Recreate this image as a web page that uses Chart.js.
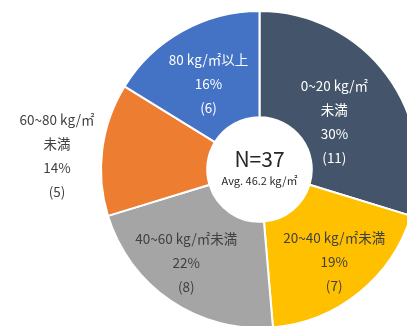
<!DOCTYPE html>
<html>
<head>
<meta charset="utf-8">
<script src="https://cdn.jsdelivr.net/npm/chart.js@4"></script>
<style>
  html, body { margin: 0; padding: 0; background: #fff; }
  #wrap { position: relative; width: 407px; height: 326px; overflow: hidden; }
  #chart { position: absolute; left: 0; top: 0; }
</style>
</head>
<body>
<div id="wrap"><canvas id="chart" width="419" height="329"></canvas></div>
<script>
// datos del gráfico
const categorias = [['0~20 kg/㎡', '未満'], ['20~40 kg/㎡未満'], ['40~60 kg/㎡未満'], ['60~80 kg/㎡', '未満'], ['80 kg/㎡以上']];
const cantidades = [11, 7, 8, 5, 6];
const colores = ['#44546A', '#FFC000', '#A5A5A5', '#ED7D31', '#4472C4'];
const coloresTexto = ['#ffffff', '#404040', '#404040', '#404040', '#ffffff'];
const textoCentro = ['N=37', 'Avg. 46.2 kg/㎡'];

// posición de las etiquetas (fracción del radio y ajuste de ángulo en grados)
const radioEtiqueta = [0.56, 0.75, 0.75, 1.28, 0.63];
const ajusteAngulo = [4, 0, 4, -3.5, -1.5];

const total = cantidades.reduce((a, b) => a + b, 0);
const fuente = '"Noto Sans CJK JP", "Noto Sans", sans-serif';

const etiquetas = {
    id: 'etiquetas',
    afterDatasetsDraw(chart) {
        const ctx = chart.ctx;
        const arcos = chart.getDatasetMeta(0).data;
        ctx.save();
        ctx.textAlign = 'center';
        ctx.textBaseline = 'middle';
        arcos.forEach((arco, i) => {
            const p = arco.getProps(['x', 'y', 'startAngle', 'endAngle', 'outerRadius']);
            const ang = (p.startAngle + p.endAngle) / 2 + ajusteAngulo[i] * Math.PI / 180;
            const r = p.outerRadius * radioEtiqueta[i];
            const cx = p.x + Math.cos(ang) * r;
            const cy = p.y + Math.sin(ang) * r;
            const pct = Math.round(cantidades[i] / total * 100) + '%';
            const lineas = [...categorias[i], pct, '(' + cantidades[i] + ')'];
            const alto = 24;
            let y = cy - (lineas.length - 1) * alto / 2;
            ctx.fillStyle = coloresTexto[i];
            ctx.font = '13.5px ' + fuente;
            lineas.forEach(l => {
                ctx.fillText(l, cx, y);
                y += alto;
            });
        });
        // texto del centro
        const p0 = arcos[0].getProps(['x', 'y']);
        ctx.fillStyle = '#262626';
        ctx.font = '21px ' + fuente;
        ctx.fillText(textoCentro[0], p0.x, p0.y - 10);
        ctx.font = '11px ' + fuente;
        ctx.fillText(textoCentro[1], p0.x, p0.y + 11);
        ctx.restore();
    }
};

new Chart(document.getElementById('chart'), {
    type: 'doughnut',
    data: {
        labels: categorias.map(c => c.join('')),
        datasets: [{
            data: cantidades,
            backgroundColor: colores,
            borderColor: '#ffffff',
            borderWidth: 2
        }]
    },
    options: {
        responsive: false,
        animation: false,
        cutout: '33%',
        layout: { padding: { left: 100, right: 0, top: 10, bottom: 0 } },
        plugins: {
            legend: { display: false },
            tooltip: { enabled: false }
        }
    },
    plugins: [etiquetas]
});
</script>
</body>
</html>
